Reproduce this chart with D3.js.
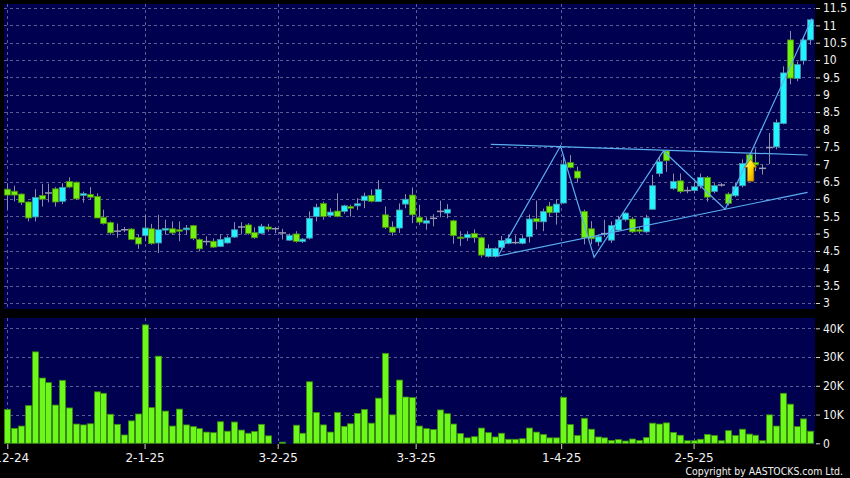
<!DOCTYPE html>
<html><head><meta charset="utf-8">
<script src="https://cdn.jsdelivr.net/npm/d3@7"></script>
<style>html,body{margin:0;padding:0;background:#000;overflow:hidden}</style>
</head><body><svg id="c" width="850" height="478"></svg>
<script>
// ---- data ----
const opens  = [6.28,6.22,6.14,5.91,5.48,6.10,6.17,6.29,5.93,6.50, 6.48,6.10,6.13,6.07,5.47,5.32,5.07,5.11,5.13,4.89,
                4.94,5.14,4.73,5.10,5.14,5.11,5.11,5.23,4.83,4.77, 4.78,4.63,4.73,4.90,5.19,5.25,5.03,5.01,5.19,5.14,
                5.02,4.81,4.99,4.77,4.87,5.49,5.87,5.52,5.65,5.64, 5.78,5.80,5.95,6.10,5.92,5.54,5.19,5.16,5.85,6.11,
                5.47,5.30,5.44,5.64,5.59,5.37,4.90,4.88,5.00,4.88, 4.34,4.34,4.60,4.72,4.74,4.72,4.91,5.43,5.34,5.79,
                5.61,5.88,7.05,6.80,5.64,5.14,4.76,5.00,4.81,5.10, 5.40,5.42,5.11,5.05,5.70,6.73,7.38,6.30,6.52,6.24,
                6.24,6.37,6.62,6.21,6.40,6.14,6.09,6.38,7.27,7.05, 6.88,7.48,7.50,8.17,10.58,9.47,9.98,10.58];
const highs  = [6.45,6.38,6.16,5.93,6.28,6.43,6.44,6.34,6.45,6.62, 6.50,6.21,6.34,6.16,5.69,5.35,5.29,5.19,5.16,4.97,
                5.54,5.28,5.54,5.40,5.35,5.35,5.25,5.25,4.86,4.92, 4.86,4.98,4.94,5.33,5.33,5.30,5.18,5.28,5.28,5.19,
                5.14,5.00,5.07,4.87,5.64,5.86,5.92,5.73,6.16,5.83, 5.83,6.02,6.18,6.27,6.54,5.78,5.35,5.87,6.14,6.33,
                5.83,5.47,5.56,5.95,5.85,5.40,5.07,5.07,5.12,4.91, 4.69,4.60,4.93,4.98,4.95,4.95,5.55,5.95,5.72,5.91,
                5.98,7.21,7.26,6.93,5.69,5.36,4.95,5.40,5.35,5.51, 5.61,5.48,5.19,5.54,6.69,7.21,7.40,6.73,6.73,6.35,
                6.50,6.73,6.66,6.45,6.45,6.19,6.47,7.14,7.31,7.45, 7.00,7.90,8.29,9.82,10.84,9.96,10.68,11.16];
const lows   = [5.69,5.93,5.83,5.35,5.35,5.78,5.90,5.78,5.85,6.31, 5.97,5.89,5.98,5.45,5.26,4.97,4.88,5.04,4.81,4.56,
                4.78,4.68,4.44,4.97,4.97,4.78,4.97,4.81,4.49,4.66, 4.59,4.61,4.71,4.88,4.98,4.97,4.85,4.98,5.06,5.01,
                4.83,4.79,4.74,4.73,4.83,5.35,5.40,5.47,5.47,5.57, 5.49,5.68,5.73,5.90,5.92,5.13,4.94,5.02,5.73,5.30,
                5.25,5.11,5.21,5.47,5.44,4.71,4.64,4.79,4.74,4.31, 4.31,4.31,4.55,4.69,4.69,4.69,4.74,5.12,5.07,5.48,
                5.26,5.86,6.88,6.47,4.69,4.69,4.64,4.90,4.73,5.07, 5.35,5.02,5.00,5.02,5.69,6.64,6.78,6.26,6.16,6.16,
                6.16,6.30,5.92,6.16,6.35,5.81,6.05,6.33,6.86,6.80, 6.70,7.00,7.43,8.15,9.30,9.39,9.87,10.44];
const closes = [6.11,6.11,5.90,5.45,6.04,5.99,6.17,5.91,6.33,6.34, 6.00,6.15,6.05,5.45,5.29,5.02,5.07,5.11,4.83,4.70,
                5.16,4.71,5.11,5.15,5.02,5.07,5.16,4.86,4.56,4.77, 4.61,4.83,4.88,5.11,5.19,5.00,4.88,5.21,5.13,5.14,
                5.02,4.95,4.77,4.84,5.44,5.76,5.49,5.62,5.49,5.80, 5.73,5.86,6.08,5.93,6.27,5.18,5.04,5.68,5.99,5.54,
                5.33,5.37,5.44,5.64,5.70,4.94,4.86,4.98,4.88,4.38, 4.57,4.57,4.80,4.85,4.74,4.86,5.42,5.34,5.64,5.60,
                5.85,7.00,6.90,6.60,4.88,4.85,4.91,5.00,5.23,5.40, 5.59,5.05,5.07,5.45,6.38,7.07,7.10,6.50,6.21,6.24,
                6.35,6.62,6.05,6.38,6.40,5.87,6.35,7.02,7.00,6.98, 6.88,7.48,8.20,9.63,9.48,9.87,10.58,11.16];
const volumesK = [11.8,5.2,6.0,13.1,31.8,22.7,21.1,13.3,21.9,12.3, 6.7,6.4,6.8,17.9,17.4,10.1,6.6,2.9,7.8,10.2,
                41.2,12.4,30.3,11.2,6.0,11.9,6.4,5.8,5.1,3.9, 3.7,7.5,4.2,7.4,4.6,3.5,4.1,6.6,2.6,0,
                0.4,0,6.3,3.5,21.4,10.7,6.4,3.9,10.7,5.9, 6.8,10.4,11.8,7.0,15.7,31.3,9.9,22.0,16.1,15.9,
                6.0,5.1,4.8,11.6,10.3,6.7,3.4,1.9,2.3,5.3, 3.7,2.2,3.5,1.4,1.4,1.6,5.3,3.9,3.1,1.9,
                1.9,16.0,6.5,2.7,8.7,4.9,2.2,1.9,1.0,1.3, 0.8,1.5,1.0,2.0,7.0,6.7,7.1,3.8,2.8,0.9,
                0.9,1.4,3.1,2.7,0.9,4.4,2.7,4.9,3.2,2.8, 0.9,9.9,6.0,17.4,13.6,5.8,8.5,4.2];
const priceTicks = [3,3.5,4,4.5,5,5.5,6,6.5,7,7.5,8,8.5,9,9.5,10,10.5,11,11.5];
const volTicks = [0,10000,20000,30000,40000];
const volTickLabels = ["0","10K","20K","30K","40K"];
const dateLabels = ["2-12-24","2-1-25","3-2-25","3-3-25","1-4-25","2-5-25"];
const dateIndex = [0,20,39.4,59.5,80.7,100];
const upperLine = [[70.45,7.573],[116.6,7.264]];
const lowerLine = [[71.5,4.354],[116.6,6.19]];
const zigzag = [[71.5,4.354],[80.6,7.524],[85.5,4.317],[95.6,7.38],[104.6,5.70],[117.25,11.2]];
const arrowPoint = [108.3,7.14];

// ---- chart ----
const svg = d3.select("#c");
const navy = "#000050";
const gridCol = "#5c5c94";
const font = "'DejaVu Sans', Verdana, sans-serif";
const condFont = "'DejaVu Sans Condensed', 'DejaVu Sans', sans-serif";
const n = opens.length;
const x = d3.scaleLinear().domain([0, n-1]).range([7.3, 810.3]);
const y = d3.scaleLinear().domain([3, 11.5]).range([303, 8]);
const yv = d3.scaleLinear().domain([0, 40000]).range([443.3, 328.3]);
const P = {l:4, r:815, t:4, b:309};
const V = {t:318, b:444};

svg.append("rect").attr("width",850).attr("height",478).attr("fill","#000");
const defs = svg.append("defs");
defs.append("clipPath").attr("id","cp").append("rect").attr("x",P.l).attr("y",P.t).attr("width",P.r-P.l).attr("height",P.b-P.t);
defs.append("clipPath").attr("id","cv").append("rect").attr("x",P.l).attr("y",V.t).attr("width",P.r-P.l).attr("height",V.b-V.t);
const ag = defs.append("linearGradient").attr("id","ag").attr("x1","0").attr("y1","0").attr("x2","1").attr("y2","1");
ag.append("stop").attr("offset","0%").attr("stop-color","#ffffa0");
ag.append("stop").attr("offset","45%").attr("stop-color","#ffe000");
ag.append("stop").attr("offset","100%").attr("stop-color","#e08a00");

svg.append("rect").attr("x",P.l).attr("y",P.t).attr("width",P.r-P.l).attr("height",P.b-P.t).attr("fill",navy);
svg.append("rect").attr("x",P.l).attr("y",V.t).attr("width",P.r-P.l).attr("height",V.b-V.t).attr("fill",navy);

// grids
const gp = svg.append("g").attr("stroke",gridCol).attr("stroke-width",1).attr("stroke-dasharray","3,3");
gp.selectAll("line.h").data(priceTicks).join("line")
  .attr("x1",P.l).attr("x2",P.r).attr("y1",d=>Math.round(y(d))+0.5).attr("y2",d=>Math.round(y(d))+0.5);
gp.selectAll("line.hv").data(volTicks.slice(1)).join("line")
  .attr("x1",P.l).attr("x2",P.r).attr("y1",d=>Math.round(yv(d))+0.5).attr("y2",d=>Math.round(yv(d))+0.5);
gp.selectAll("line.vp").data(dateIndex).join("line")
  .attr("x1",d=>Math.round(x(d))+0.5).attr("x2",d=>Math.round(x(d))+0.5).attr("y1",P.t).attr("y2",P.b);
gp.selectAll("line.vv").data(dateIndex).join("line")
  .attr("x1",d=>Math.round(x(d))+0.5).attr("x2",d=>Math.round(x(d))+0.5).attr("y1",V.t).attr("y2",V.b);

// candles
const idx = d3.range(n);
const cg = svg.append("g").attr("clip-path","url(#cp)");
cg.selectAll("line.w").data(idx).join("line")
  .attr("x1",i=>Math.round(x(i))+0.5).attr("x2",i=>Math.round(x(i))+0.5)
  .attr("y1",i=>y(highs[i])).attr("y2",i=>y(lows[i]))
  .attr("stroke","#8c8ca4").attr("stroke-width",1);
const bw = 6;
cg.selectAll("rect.b").data(idx.filter(i=>opens[i]!==closes[i])).join("rect")
  .attr("x",i=>Math.round(x(i))-bw/2+0.5).attr("width",bw)
  .attr("y",i=>y(Math.max(opens[i],closes[i])))
  .attr("height",i=>Math.max(1.5, Math.abs(y(opens[i])-y(closes[i]))))
  .attr("fill",i=>closes[i]>opens[i]?"#22f4ff":"#72f010")
  .attr("stroke",i=>closes[i]>opens[i]?"#4a90a8":"#4a8a10").attr("stroke-width",0.8);
cg.selectAll("line.d").data(idx.filter(i=>opens[i]===closes[i])).join("line")
  .attr("x1",i=>Math.round(x(i))-3).attr("x2",i=>Math.round(x(i))+4)
  .attr("y1",i=>y(closes[i])).attr("y2",i=>y(closes[i]))
  .attr("stroke","#9a9ab0").attr("stroke-width",1.5);

// trend lines
const line = d3.line().x(d=>x(d[0])).y(d=>y(d[1]));
const tl = svg.append("g").attr("clip-path","url(#cp)").attr("fill","none").attr("stroke","#5aaef0").attr("stroke-width",1.2);
[upperLine, lowerLine, zigzag].forEach(l=>tl.append("path").attr("d",line(l)));

// arrow
const ax = x(arrowPoint[0]), ay = y(arrowPoint[1]);
svg.append("path")
  .attr("d",`M${ax},${ay} L${ax+6},${ay+8} L${ax+3.3},${ay+8} L${ax+3.3},${ay+22} L${ax-3.3},${ay+22} L${ax-3.3},${ay+8} L${ax-6},${ay+8} Z`)
  .attr("fill","url(#ag)").attr("stroke","#8a6400").attr("stroke-width",0.7);

// volume
svg.append("g").attr("clip-path","url(#cv)").selectAll("rect").data(idx.filter(i=>volumesK[i]>0)).join("rect")
  .attr("x",i=>Math.round(x(i))-bw/2+0.5).attr("width",bw)
  .attr("y",i=>yv(volumesK[i]*1000)).attr("height",i=>yv(0)-yv(volumesK[i]*1000))
  .attr("fill","#6cf81a").attr("stroke","#3c8a10").attr("stroke-width",0.8);

// axes
function styleAxis(g, ff){
  g.select(".domain").remove();
  g.selectAll("line").attr("stroke","#d0d0d0");
  g.selectAll("text").attr("fill","#f2f2f2").attr("font-family",ff).attr("font-size",12);
}
svg.append("g").attr("transform","translate(816,0)")
  .call(d3.axisRight(y).tickValues(priceTicks).tickSize(4).tickPadding(3).tickFormat(d3.format("~g")))
  .call(g=>styleAxis(g, condFont));
svg.append("g").attr("transform","translate(816,0)")
  .call(d3.axisRight(yv).tickValues(volTicks).tickSize(4).tickPadding(3).tickFormat((d,i)=>volTickLabels[i]))
  .call(g=>styleAxis(g, condFont));
const xa = svg.append("g").attr("transform",`translate(0,${V.b})`)
  .call(d3.axisBottom(x).tickValues(dateIndex).tickSize(5).tickPadding(4).tickFormat((d,i)=>dateLabels[i]))
  .call(g=>styleAxis(g, font));
xa.selectAll(".tick text").filter((d,i)=>i===0).attr("dx",-2);

svg.append("text").attr("x",843).attr("y",475).attr("text-anchor","end")
  .attr("fill","#f2f2f2").attr("font-family",condFont).attr("font-size",10.4)
  .text("Copyright by AASTOCKS.com Ltd.");
</script></body></html>
